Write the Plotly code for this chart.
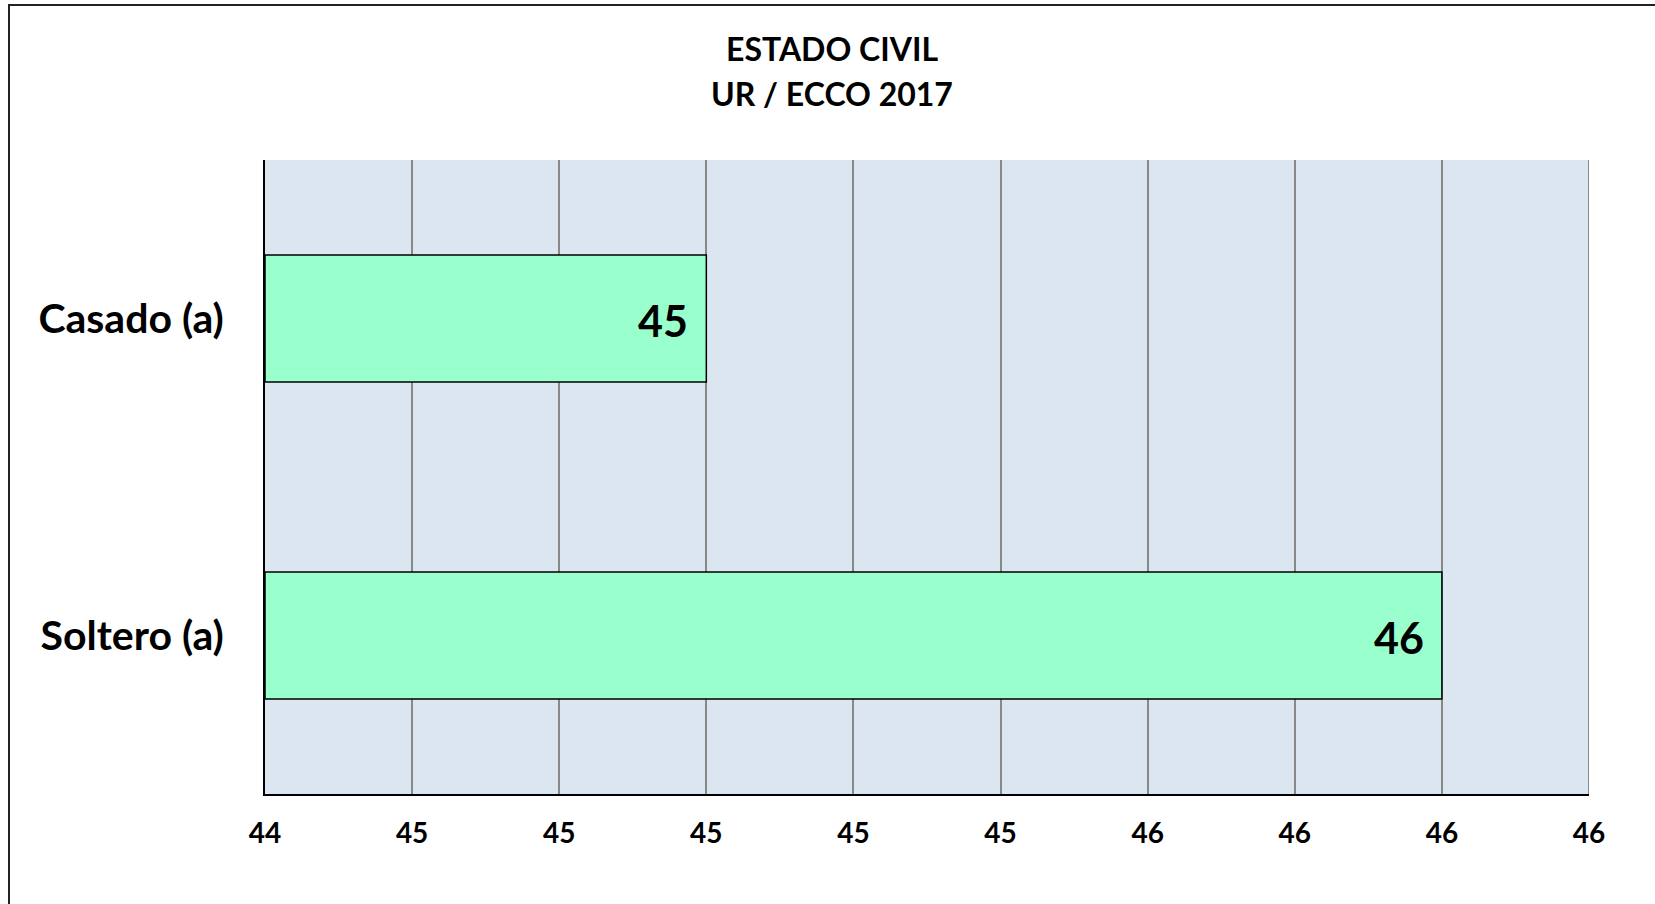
import plotly.graph_objects as go

categories = ["Soltero (a)", "Casado (a)"]
values = [46.0, 45.0]
value_labels = ["46", "45"]
tick_vals = [44.4, 44.6, 44.8, 45.0, 45.2, 45.4, 45.6, 45.8, 46.0, 46.2]
tick_text = ["44", "45", "45", "45", "45", "45", "46", "46", "46", "46"]
title_lines = ["ESTADO CIVIL", "UR / ECCO 2017"]

W, H = 1655, 904
L, R, T, B = 265, 66, 160, 110
pw, ph = W - L - R, H - T - B

FONT = "Lato"
axis_min = tick_vals[0]

fig = go.Figure()
fig.add_trace(go.Bar(
    y=categories, x=[v - axis_min for v in values], base=axis_min,
    orientation="h",
    marker=dict(color="#99FFCC", line=dict(color="black", width=1.5)),
    width=0.4, hoverinfo="skip",
))

for cat, v, lab in zip(categories, values, value_labels):
    fig.add_annotation(
        x=v, y=cat, xref="x", yref="y", text=lab, showarrow=False,
        xanchor="right", yanchor="middle", xshift=-16, yshift=-2,
        font=dict(family=FONT, size=43, color="black", weight="bold"),
    )

fig.update_layout(
    width=W, height=H,
    margin=dict(l=L, r=R, t=T, b=B),
    paper_bgcolor="white", plot_bgcolor="#DCE6F1",
    showlegend=False,
    xaxis=dict(
        range=[tick_vals[0], tick_vals[-1]],
        tickmode="array", tickvals=tick_vals, ticktext=tick_text,
        showgrid=True, gridcolor="#888888", gridwidth=1.5,
        showline=True, linecolor="black", linewidth=2,
        ticks="", ticklabelstandoff=13,
        tickfont=dict(family=FONT, size=28, color="black", weight="bold"),
        zeroline=False,
    ),
    yaxis=dict(
        showgrid=False, showline=True, linecolor="black", linewidth=2,
        ticks="", ticklabelstandoff=31,
        tickfont=dict(family=FONT, size=41, color="black", weight="bold"),
        zeroline=False,
    ),
)

# right edge gridline at the last tick
fig.add_shape(
    type="line", xref="x", yref="paper",
    x0=tick_vals[-1], x1=tick_vals[-1], y0=0, y1=1,
    line=dict(color="#888888", width=2), layer="below",
)

for line, ypix in zip(title_lines, [49, 93]):
    fig.add_annotation(
        text=line, xref="paper", yref="paper",
        x=(832 - L) / pw, y=(H - B - ypix) / ph,
        xanchor="center", yanchor="middle", showarrow=False,
        font=dict(family=FONT, size=32, color="black", weight="bold"),
    )

fig.add_shape(
    type="rect", xref="paper", yref="paper",
    x0=(9 - L) / pw, x1=(W + 10 - L) / pw,
    y0=(H - B - (H + 10)) / ph, y1=(H - B - 5) / ph,
    line=dict(color="#222222", width=2), fillcolor="rgba(0,0,0,0)", layer="below",
)

fig.write_html("out.html", config={"displayModeBar": False},
               post_script="document.body.style.margin='0';")
